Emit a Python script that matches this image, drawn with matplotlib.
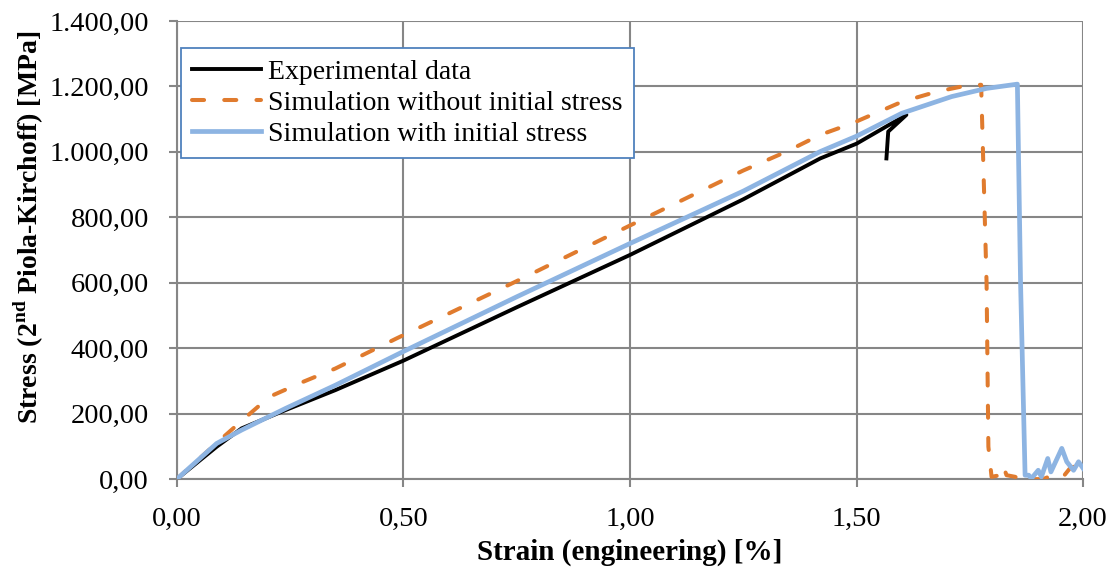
import matplotlib
matplotlib.use("Agg")
import matplotlib.pyplot as plt
from matplotlib.ticker import FuncFormatter, MultipleLocator

# values (strain in %, stress in MPa)
exp_strain = [0, 0.088, 0.143, 0.24, 0.35, 0.5, 0.75, 1.0, 1.25, 1.42, 1.5, 1.61, 1.57, 1.566]
exp_stress = [0, 99, 155, 211, 272, 362, 525, 685, 855, 980, 1025, 1113, 1062, 980]

sim_no_strain = [0, 0.095, 0.153, 0.205, 0.28, 0.35, 0.485, 0.75, 1.0, 1.25, 1.344, 1.42,
                 1.49, 1.6, 1.677, 1.751, 1.775, 1.787, 1.791, 1.798, 1.817, 1.824, 1.831,
                 1.85, 1.861, 1.912, 1.927, 1.953, 1.971, 1.997, 2.0]
sim_no_stress = [0, 119, 190, 252, 298, 338, 430, 605, 775, 943, 1000, 1052,
                 1087, 1153, 1184, 1205, 1205, 600, 99, 7, 12, 40, 12,
                 7, 0, 0, 9, 2, 33, 48, 48]

sim_init_strain = [0, 0.088, 0.143, 0.24, 0.35, 0.5, 0.75, 1.0, 1.25, 1.42, 1.5, 1.6, 1.71,
                   1.787, 1.855, 1.862, 1.872, 1.880, 1.886, 1.901, 1.908, 1.922, 1.929,
                   1.953, 1.964, 1.979, 1.990, 2.0]
sim_init_stress = [0, 109, 150, 216, 287, 390, 557, 720, 880, 1001, 1048, 1118, 1169,
                   1194, 1207, 600, 12, 12, 2, 27, 7, 63, 22,
                   94, 53, 27, 53, 33]

INK = "#000000"
GRID = "#868686"
ORANGE = "#E07B2E"
BLUE = "#8DB4E2"
LEGEND_EDGE = "#4F81BD"

plt.rcParams.update({
    "font.family": ["Liberation Serif", "DejaVu Serif"],
    "mathtext.fontset": "custom",
    "mathtext.rm": "Liberation Serif",
    "mathtext.bf": "Liberation Serif:bold",
})


def _fmt(v, pos):
    s = f"{v:,.2f}"
    return s.replace(",", "X").replace(".", ",").replace("X", ".")


fig = plt.figure(figsize=(11.12, 5.67), dpi=100)
ax = fig.add_axes([0.159, 0.155, 0.815, 0.808])

ax.plot(exp_strain, exp_stress, color=INK, linewidth=2.8, solid_joinstyle="round",
        label="Experimental data", zorder=3)
ax.plot(sim_no_strain, sim_no_stress, color=ORANGE, linewidth=2.9, linestyle=(0, (3.0, 5.0)),
        dash_capstyle="round", label="Simulation without initial stress", zorder=4)
ax.plot(sim_init_strain, sim_init_stress, color=BLUE, linewidth=3.4, solid_joinstyle="round",
        label="Simulation with initial stress", zorder=5)

ax.set_xlim(0, 2.0)
ax.set_ylim(0, 1400)
ax.xaxis.set_major_locator(MultipleLocator(0.5))
ax.yaxis.set_major_locator(MultipleLocator(200))
ax.xaxis.set_major_formatter(FuncFormatter(_fmt))
ax.yaxis.set_major_formatter(FuncFormatter(_fmt))
ax.grid(True, color=GRID, linewidth=1.5, zorder=0)
ax.set_axisbelow(True)
for spine in ("top", "right"):
    ax.spines[spine].set_visible(False)
for spine in ("left", "bottom"):
    ax.spines[spine].set_color(GRID)
    ax.spines[spine].set_linewidth(1.5)
ax.tick_params(axis="both", direction="out", length=6, width=1.5, color=GRID,
               labelsize=20.5, labelcolor=INK)
ax.tick_params(axis="y", pad=14)
ax.tick_params(axis="x", pad=14)

ax.set_xlabel("Strain (engineering) [%]", fontsize=21, fontweight="bold")
ax.set_ylabel(r"Stress (2$^{\mathbf{nd}}$ Piola-Kirchoff) [MPa]", fontsize=20,
              fontweight="bold")
ax.xaxis.set_label_coords(0.5, -0.130)
ax.yaxis.set_label_coords(-0.144, 0.55)

leg = ax.legend(loc="upper left", bbox_to_anchor=(0.0044, 0.941), fontsize=20,
                frameon=True, fancybox=False, edgecolor=LEGEND_EDGE, framealpha=1,
                handlelength=2.5, handletextpad=0.25, borderpad=0.4, labelspacing=0.2,
                borderaxespad=0)
leg.get_frame().set_linewidth(1.3)

fig.savefig("out.png", dpi=100)
